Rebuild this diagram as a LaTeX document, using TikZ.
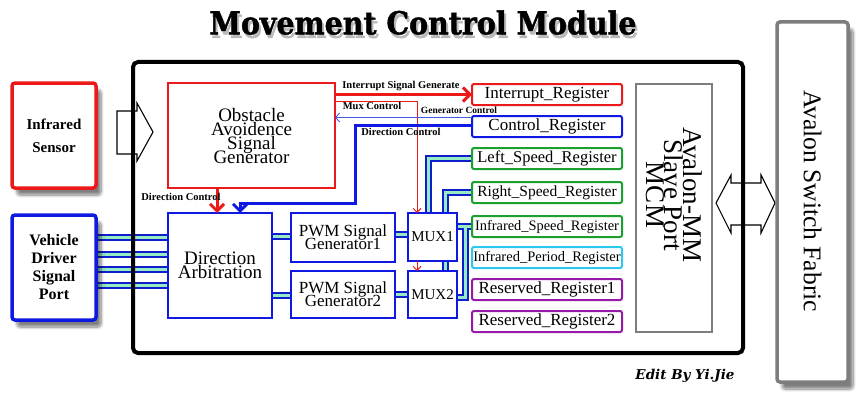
\documentclass[tikz,border=0pt]{standalone}
\usepackage{fontspec}
\setmainfont{Liberation Serif}
\newfontfamily\titlefont{DejaVu Serif}[BoldFeatures={FakeBold=1.5}]
\newfontfamily\signfont{DejaVu Serif}
\usepackage{graphicx}
\usetikzlibrary{arrows.meta,shadows.blur}
\pgfdeclarelayer{bg}
\pgfdeclarelayer{wires}
\pgfdeclarelayer{fg}
\pgfsetlayers{bg,wires,main,fg}
\definecolor{myred}{RGB}{235,25,25}
\definecolor{myblue}{RGB}{15,25,225}
\definecolor{busblue}{RGB}{15,30,205}
\definecolor{mint}{RGB}{150,235,195}
\definecolor{mygreen}{RGB}{25,160,45}
\definecolor{mycyan}{RGB}{45,200,240}
\definecolor{mypurple}{RGB}{150,25,170}
\definecolor{mygray}{RGB}{125,125,125}
\definecolor{lightblueline}{RGB}{70,90,230}
\tikzset{
  box/.style={draw, line width=2pt, fill=white, align=center, anchor=north west, inner sep=0pt, outer sep=0pt},
  outerbox/.style={box, line width=3.5pt, rounded corners=3pt,
     blur shadow={shadow xshift=5pt, shadow yshift=-7pt, shadow blur radius=3pt, shadow blur steps=8, shadow opacity=50}},
  reg/.style={box, rounded corners=2pt, minimum width=150, minimum height=21},
  bus/.style={draw=mint, line width=3pt, preaction={draw=busblue, line width=7pt}},
  lbl/.style={font=\bfseries\fontsize{10.5}{12}\selectfont, inner sep=0pt},
  hollow/.style={draw=black, line width=1.1pt, line join=miter},
  thickred/.style={draw=myred, line width=3pt, -{Straight Barb[length=7pt,width=14pt]}},
  thickblue/.style={draw=myblue, line width=3pt, -{Straight Barb[length=7pt,width=14pt]}},
  thinred/.style={draw=myred, line width=0.9pt, -{Straight Barb[length=4pt,width=8pt]}},
  thinblueline/.style={draw=lightblueline, line width=0.9pt, -{Straight Barb[length=4pt,width=9pt]}},
  tightfont/.style={font={\fontsize{#1}{14}\selectfont\lineskiplimit=-30pt}},
}
\begin{document}
\begin{tikzpicture}[x=1pt,y=-1pt]
\useasboundingbox (0,0) rectangle (864,404);
% title
\node[text=gray!55, inner sep=0pt] (titleshadow) at (425,26) {\resizebox{427pt}{24pt}{\titlefont\bfseries Movement Control Module}};
\node[inner sep=0pt] (title) at (423,22.5) {\resizebox{427pt}{24pt}{\titlefont\bfseries Movement Control Module}};
% main module background
\begin{pgfonlayer}{bg}
\path[fill=white, rounded corners=5pt, blur shadow={shadow xshift=5pt, shadow yshift=-9pt, shadow blur radius=4pt, shadow blur steps=8, shadow opacity=45}] (133,62) rectangle (743,353);
\end{pgfonlayer}
% hollow arrows
\draw[hollow] (117,111) -- (137,111) -- (137,103) -- (153,132) -- (137,161) -- (137,154) -- (117,154) -- cycle;
\draw[hollow] (716,203) -- (731,175) -- (731,183) -- (761,183) -- (761,175) -- (775,203) -- (761,233) -- (761,225) -- (731,225) -- (731,233) -- cycle;
% outer boxes
\node[outerbox, draw=myred, minimum width=84, minimum height=105, font=\bfseries\fontsize{15}{23}\selectfont] (ir) at (12,83) {Infrared\\Sensor};
\node[outerbox, draw=myblue, minimum width=84, minimum height=105, font=\bfseries\fontsize{16}{18}\selectfont] (vd) at (12,215) {Vehicle\\Driver\\Signal\\Port};
\node[outerbox, draw=mygray, minimum width=71, minimum height=360] (asf) at (777,22) {};
\node[rotate=-90, font=\fontsize{25.5}{30}\selectfont, inner sep=0pt] (asftext) at (812.5,201) {Avalon Switch Fabric};
% inner blocks
\node[box, draw=myred, minimum width=167, minimum height=105, tightfont=19] (og) at (168,83) {Obstacle\\Avoidence\\Signal\\Generator};
\node[box, draw=myblue, minimum width=104, minimum height=105, tightfont=19] (da) at (168,213) {Direction\\Arbitration};
\node[box, draw=myblue, minimum width=104, minimum height=49, font={\fontsize{17}{13}\selectfont\lineskiplimit=-30pt}] (pwm1) at (291,213) {PWM Signal\\Generator1};
\node[box, draw=myblue, minimum width=104, minimum height=47, font={\fontsize{17}{13}\selectfont\lineskiplimit=-30pt}] (pwm2) at (291,271) {PWM Signal\\Generator2};
\node[box, draw=myblue, minimum width=49, minimum height=48, font=\fontsize{15}{18}\selectfont] (mux1) at (408,213) {MUX1};
\node[box, draw=myblue, minimum width=49, minimum height=47, font=\fontsize{15}{18}\selectfont] (mux2) at (408,271) {MUX2};
% registers
\node[reg, draw=myred, font=\fontsize{17}{20}\selectfont] (int) at (472,84) {Interrupt\_Register};
\node[reg, draw=myblue, font=\fontsize{17}{20}\selectfont] (ctrl) at (472,116) {Control\_Register};
\node[reg, draw=mygreen, font=\fontsize{16.5}{20}\selectfont] (ls) at (472,148) {Left\_Speed\_Register};
\node[reg, draw=mygreen, font=\fontsize{15.5}{20}\selectfont] (rs) at (472,182) {Right\_Speed\_Register};
\node[reg, draw=mygreen, font=\fontsize{14.4}{20}\selectfont] (is) at (472,216) {Infrared\_Speed\_Register};
\node[reg, draw=mycyan, font=\fontsize{14.5}{20}\selectfont] (ip) at (472,247) {Infrared\_Period\_Register};
\node[reg, draw=mypurple, font=\fontsize{17}{20}\selectfont] (r1) at (472,279) {Reserved\_Register1};
\node[reg, draw=mypurple, font=\fontsize{17}{20}\selectfont] (r2) at (472,311) {Reserved\_Register2};
% slave port
\node[box, draw=mygray, minimum width=76, minimum height=248] (mcm) at (636,84) {};
\node[rotate=-90, align=center, font={\fontsize{27}{18.5}\selectfont\lineskiplimit=-30pt}, inner sep=0pt] (mcmtext) at (674,195) {Avalon-MM\\Slave Port\\MCM};
% buses
\begin{pgfonlayer}{wires}
\draw[bus] (vd.east |- 0,237) -- (da.west |- 0,237);
\draw[bus] (vd.east |- 0,254) -- (da.west |- 0,254);
\draw[bus] (vd.east |- 0,269) -- (da.west |- 0,269);
\draw[bus] (vd.east |- 0,285) -- (da.west |- 0,285);
\draw[bus] (da.east |- 0,236) -- (pwm1.west |- 0,236);
\draw[bus] (da.east |- 0,295) -- (pwm2.west |- 0,295);
\draw[bus] (pwm1.east |- 0,234) -- (mux1.west |- 0,234);
\draw[bus] (pwm2.east |- 0,294) -- (mux2.west |- 0,294);
\draw[bus] (ls.west) -| (mux1.north -| 428,0);
\draw[bus] (rs.west) -| (mux2.north -| 445,0);
\draw[bus] (is.west) -- (mux1.east |- is.west) (465,226.5) |- (mux2.east |- 0,297);
\end{pgfonlayer}
% control connectors
\draw[thickred] (og.east |- int.west) -- (int.west);
\draw[thinred] (og.east |- 0,101) -| (mux1.north -| 417,0);
\draw[thinred] (mux1.south -| 417,0) -- (mux2.north -| 417,0);
\draw[thinblueline] (ctrl.west |- 0,117.5) -- (og.east |- 0,117.5);
\draw[thickblue] (ctrl.west |- 0,125) -| (355,203) -| (da.north -| 240,0);
\draw[thickred] (og.south -| 217,0) -- (da.north -| 217,0);
% labels
\node[lbl] (lisg) at (401,86) {Interrupt Signal Generate};
\node[lbl] (lmux) at (372,106) {Mux Control};
\node[lbl, font=\bfseries\fontsize{9.5}{11}\selectfont] (lgen) at (459,110) {Generator Control};
\node[lbl] (ldcb) at (401,132) {Direction Control};
\node[lbl] (ldcr) at (181,197) {Direction Control};
% signature
\node[font=\signfont\bfseries\itshape\fontsize{13.5}{15}\selectfont, inner sep=0pt] (edit) at (685,376) {Edit By Yi.Jie};
% main module border
\begin{pgfonlayer}{fg}
\draw[line width=4pt, rounded corners=5pt] (133,62) rectangle (743,353);
\end{pgfonlayer}
\end{tikzpicture}
\end{document}
